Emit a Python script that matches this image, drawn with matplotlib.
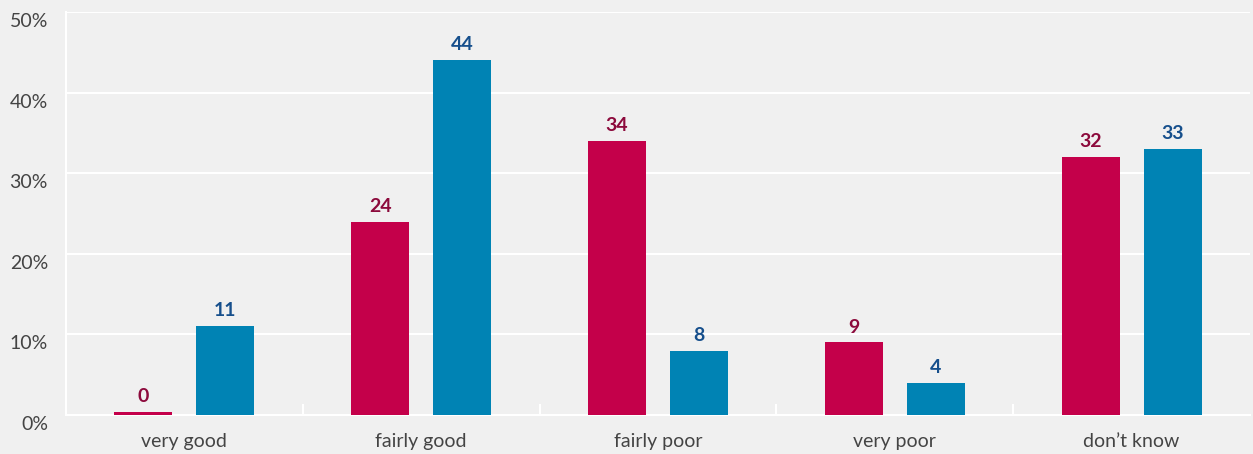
import numpy as np
import matplotlib.pyplot as plt
import matplotlib.transforms as mtrans

categories = ["very good", "fairly good", "fairly poor", "very poor", "don\u2019t know"]
series_a = [0, 24, 34, 9, 32]
series_b = [11, 44, 8, 4, 33]

red = "#c4004a"
blue = "#0083b4"
red_txt = "#8c0a3c"
blue_txt = "#164f8c"
bg = "#f0f0f0"

plt.rcParams['font.family'] = ['Lato', 'DejaVu Sans']

fig = plt.figure(figsize=(12.53, 4.54), dpi=100, facecolor=bg)
ax = fig.add_axes([66 / 1253, 39 / 454, 1184 / 1253, 403 / 454], facecolor=bg)

x = np.arange(len(categories))
off = 0.173
w = 0.245
# zero values still get a sliver of bar so they show up
ha = [max(v, 0.4) for v in series_a]
hb = [max(v, 0.4) for v in series_b]
ax.bar(x - off, ha, width=w, color=red, zorder=3)
ax.bar(x + off, hb, width=w, color=blue, zorder=3)

for xi, v, h in zip(x, series_a, ha):
    ax.annotate(str(v), (xi - off, h), xytext=(0, 5), textcoords="offset points",
                ha="center", va="bottom", color=red_txt, fontsize=14, fontweight="bold")
for xi, v, h in zip(x, series_b, hb):
    ax.annotate(str(v), (xi + off, h), xytext=(0, 5), textcoords="offset points",
                ha="center", va="bottom", color=blue_txt, fontsize=14, fontweight="bold")

ax.set_xlim(-0.5, len(categories) - 0.5)
ax.set_ylim(0, 50)
ax.set_yticks([0, 10, 20, 30, 40, 50])
ax.set_yticklabels([f"{t}%" for t in range(0, 60, 10)])
ax.set_xticks(x)
ax.set_xticklabels(categories)
ax.set_xticks(np.arange(0.5, len(categories) - 0.5), minor=True)

ax.tick_params(axis="y", length=0, pad=18, labelsize=14, labelcolor="#444444")
ax.tick_params(axis="x", which="major", length=0, pad=13, labelsize=14, labelcolor="#444444")
ax.tick_params(axis="x", which="minor", direction="in", length=8, width=1.5, color="white")

# percent labels sit a little below their gridlines
shift = mtrans.ScaledTranslation(7 / 100, -8 / 100, fig.dpi_scale_trans)
for lbl in ax.get_yticklabels():
    lbl.set_transform(lbl.get_transform() + shift)

ax.grid(axis="y", color="white", linewidth=1.5, zorder=0)
for s in ["top", "right"]:
    ax.spines[s].set_visible(False)
for s in ["left", "bottom"]:
    ax.spines[s].set_color("white")
    ax.spines[s].set_linewidth(1.5)

fig.savefig("out.png", dpi=100, facecolor=bg)
